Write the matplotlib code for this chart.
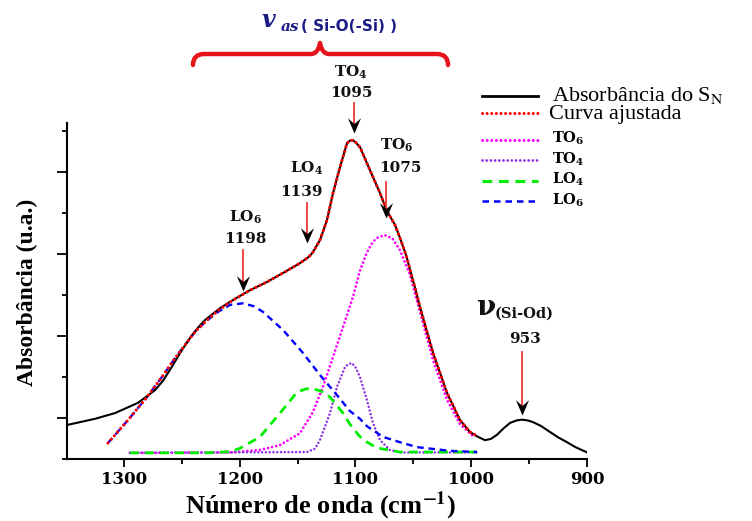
import matplotlib
matplotlib.use("Agg")
import matplotlib.pyplot as plt
from matplotlib.path import Path
from matplotlib.patches import PathPatch
from matplotlib.lines import Line2D
from matplotlib.transforms import Affine2D

plt.rcParams['mathtext.fontset'] = 'dejavuserif'

# ---------------- data ----------------
wn_exp = [1349.2, 1325.1, 1307.8, 1287.9, 1273.2, 1266.0, 1258.0, 1249.9, 1241.3, 1235.0,
          1230.0, 1217.1, 1205.8, 1191.1, 1176.5, 1162.6, 1147.9, 1140.0, 1136.7, 1130.7,
          1124.6, 1119.4, 1113.4, 1107.3, 1104.8, 1102.2, 1099.6, 1096.1, 1087.5, 1078.8,
          1072.8, 1066.0, 1061.6, 1056.0, 1052.9, 1048.0, 1044.3, 1033.0, 1020.9, 1009.7,
          1001.1, 994.2, 988.1, 983.0, 977.8, 972.0, 966.5, 961.0, 956.2, 951.0,
          946.7, 940.0, 932.0, 925.0, 917.3, 910.0, 899.1]
abs_exp = [0.83, 0.98, 1.12, 1.37, 1.68, 1.92, 2.28, 2.66, 3.02, 3.24,
           3.39, 3.68, 3.88, 4.12, 4.32, 4.54, 4.78, 4.94, 5.05, 5.34,
           5.83, 6.49, 7.12, 7.71, 7.77, 7.78, 7.72, 7.61, 7.05, 6.49,
           6.05, 5.72, 5.40, 4.95, 4.62, 4.12, 3.71, 2.59, 1.61, 0.95,
           0.66, 0.54, 0.46, 0.49, 0.59, 0.75, 0.88, 0.94, 0.96, 0.94,
           0.90, 0.81, 0.66, 0.53, 0.41, 0.29, 0.15]

wn_fit = [1313.8, 1296.5, 1280.1, 1267.2, 1255.9, 1247.3, 1238.7, 1230.0, 1218.8, 1206.7,
          1191.1, 1176.5, 1162.6, 1147.9, 1140.0, 1136.7, 1130.7, 1124.6, 1119.4, 1113.4,
          1107.3, 1104.8, 1102.2, 1099.6, 1096.1, 1087.5, 1078.8, 1072.8, 1066.0, 1061.6,
          1056.0, 1052.9, 1048.0, 1044.3, 1033.0, 1020.9, 1009.7, 1001.1, 996.0]
abs_fit = [0.39, 0.95, 1.51, 2.00, 2.46, 2.78, 3.10, 3.34, 3.62, 3.86,
           4.12, 4.32, 4.54, 4.78, 4.94, 5.05, 5.34, 5.83, 6.49, 7.12,
           7.71, 7.77, 7.78, 7.72, 7.61, 7.05, 6.49, 6.05, 5.72, 5.40,
           4.95, 4.62, 4.12, 3.71, 2.59, 1.61, 0.95, 0.66, 0.58]

wn_lo6 = [1313.8, 1296.5, 1280.1, 1267.2, 1255.9, 1247.3, 1238.7, 1230.0, 1218.8, 1208.4,
          1197.2, 1188.0, 1179.9, 1162.6, 1145.4, 1130.7, 1116.0, 1104.8, 1096.1, 1090.1,
          1076.2, 1061.6, 1046.9, 1018.4, 995.0]
abs_lo6 = [0.39, 0.95, 1.51, 2.00, 2.46, 2.78, 3.10, 3.34, 3.59, 3.76,
           3.80, 3.73, 3.59, 3.15, 2.59, 2.05, 1.56, 1.17, 0.98, 0.80,
           0.54, 0.41, 0.29, 0.20, 0.17]

wn_lo4 = [1294.8, 1230.0, 1208.4, 1199.8, 1182.5, 1165.2, 1150.5, 1143.0, 1137.6, 1130.0,
          1122.0, 1110.8, 1104.8, 1097.8, 1093.5, 1081.4, 1061.6, 995.0]
abs_lo4 = [0.15, 0.15, 0.18, 0.26, 0.54, 1.12, 1.63, 1.71, 1.72, 1.66,
           1.51, 1.12, 0.85, 0.60, 0.47, 0.27, 0.17, 0.17]

wn_to6 = [1294.8, 1208.4, 1182.5, 1165.2, 1147.9, 1136.7, 1128.1, 1119.4, 1110.8, 1102.2,
          1096.1, 1090.0, 1085.0, 1080.0, 1074.5, 1068.0, 1061.6, 1052.9, 1044.3, 1033.0,
          1020.9, 1009.7, 998.5]
abs_to6 = [0.15, 0.16, 0.22, 0.34, 0.63, 1.15, 1.76, 2.49, 3.22, 3.95,
           4.60, 5.05, 5.30, 5.42, 5.46, 5.38, 5.10, 4.49, 3.59, 2.41,
           1.44, 0.85, 0.56]

wn_to4 = [1294.8, 1141.9, 1135.0, 1130.7, 1122.0, 1116.0, 1109.1, 1106.0, 1103.0, 1100.0,
          1096.1, 1090.1, 1084.9, 1078.8, 1070.2, 1061.6, 995.0]
abs_to4 = [0.15, 0.17, 0.25, 0.46, 1.12, 1.76, 2.24, 2.32, 2.34, 2.24,
           2.00, 1.44, 0.88, 0.46, 0.22, 0.16, 0.16]

x_ticks = [1300, 1200, 1100, 1000, 900]
x_ticklabels = ['1300', '1200', '1100', '1000', '900']
x_minor = [1250, 1150, 1050, 950]

# peak annotations: (x of tip, y of tip, y of red line top)
ann_lo6 = (1197.2, 4.10, 5.10)
ann_lo4 = (1141.9, 5.27, 6.24)
ann_to4 = (1101.3, 7.95, 8.68)
ann_to6 = (1073.6, 5.88, 6.76)
ann_953 = (956.2, 1.07, 2.61)

# ---------------- figure ----------------
W, H = 752, 521
fig = plt.figure(figsize=(W / 100, H / 100), dpi=100)
pix = Affine2D().scale(1 / W, -1 / H).translate(0, 1) + fig.transFigure

ax = fig.add_axes([67 / W, 1 - 459 / H, (587 - 67) / W, (459 - 123) / H])
ax.set_facecolor('none')

ax.plot(wn_exp, abs_exp, color='black', lw=1.5, zorder=3)
ax.plot(wn_fit, abs_fit, color='#ff0000', lw=2.3, ls=(0, (0.01, 1.5)),
        dash_capstyle='round', zorder=4)
ax.plot(wn_to6, abs_to6, color='#ff00ff', lw=2.0, ls=(0, (0.01, 1.5)),
        dash_capstyle='round', zorder=2)
ax.plot(wn_to4, abs_to4, color='#8a2be2', lw=1.8, ls=(0, (0.01, 1.5)),
        dash_capstyle='round', zorder=2)
ax.plot(wn_lo4, abs_lo4, color='#00ee00', lw=2.0, ls=(0, (3.2, 2.2)), zorder=2)
ax.plot(wn_lo6, abs_lo6, color='#0000ff', lw=1.7, ls=(0, (2.8, 2.0)), zorder=2)

ax.set_xlim(1349.2, 900)
ax.set_ylim(0, 8.2)
for s in ('top', 'right'):
    ax.spines[s].set_visible(False)
for s in ('left', 'bottom'):
    ax.spines[s].set_linewidth(1.5)

ax.set_xticks(x_ticks)
ax.set_xticklabels(x_ticklabels, fontfamily='DejaVu Serif', fontweight='bold', fontsize=12)
ax.set_xticks(x_minor, minor=True)
ax.set_yticks([1, 3, 5, 7])
ax.set_yticks([0, 2, 4, 6, 8], minor=True)
ax.set_yticklabels([])
ax.tick_params(axis='x', which='major', length=6, width=1.3, pad=3)
ax.tick_params(axis='x', which='minor', length=3.5, width=1.3)
ax.tick_params(axis='y', which='major', length=7, width=1.3)
ax.tick_params(axis='y', which='minor', length=3.5, width=1.3)

# arrows
stealth = Path([(0, 0), (-0.43, 1.0), (0, 0.62), (0.43, 1.0), (0, 0)],
               [Path.MOVETO, Path.LINETO, Path.LINETO, Path.LINETO, Path.CLOSEPOLY])
for (x, ytip, ytop) in (ann_lo6, ann_lo4, ann_to4, ann_to6, ann_953):
    ax.plot([x, x], [ytop, ytip + 0.2], color='#f03535', lw=1.3, clip_on=False, zorder=5)
    ax.plot([x], [ytip], marker=stealth, color='black', markersize=22,
            markeredgewidth=0, clip_on=False, zorder=6)

lab = dict(transform=pix, family='DejaVu Serif', fontweight='bold', fontsize=11,
           ha='center', va='baseline', color='#111111')
fig.text(245, 222, r'LO$_\mathbf{6}$', **lab)
fig.text(245, 243, '1198', **lab)
fig.text(307, 173, r'LO$_\mathbf{4}$', **lab)
fig.text(301, 196, '1139', **lab)
fig.text(351, 77, r'TO$_\mathbf{4}$', **lab)
fig.text(351, 97, '1095', **lab)
fig.text(397, 150, r'TO$_\mathbf{6}$', **lab)
fig.text(400, 172, '1075', **lab)
fig.text(525, 343, '953', **lab)
fig.text(476, 315, 'ν', transform=pix, family='DejaVu Serif', fontweight='bold',
         fontsize=20, ha='left', va='baseline', color='#111111')
fig.text(495, 318, '(Si-Od)', transform=pix, family='DejaVu Serif', fontweight='bold',
         fontsize=10.5, ha='left', va='baseline', color='#111111')

# top brace + title
navy = '#1c1c86'
bv = [(193, 65), (193, 54), (204, 54), (311, 54), (318, 54), (320, 43),
      (322, 54), (329, 54), (437, 54), (448, 54), (448, 65)]
bc = [Path.MOVETO, Path.CURVE3, Path.CURVE3, Path.LINETO, Path.CURVE3, Path.CURVE3,
      Path.CURVE3, Path.CURVE3, Path.LINETO, Path.CURVE3, Path.CURVE3]
fig.add_artist(PathPatch(Path(bv, bc), transform=pix, fill=False, edgecolor='#e8141c',
                         lw=3.2, capstyle='round', joinstyle='round'))
fig.text(262, 27, 'v', transform=pix, family='DejaVu Serif', fontweight='bold',
         style='italic', fontsize=17, ha='left', va='baseline', color=navy)
fig.text(281, 31, 'as', transform=pix, family='DejaVu Serif', fontweight='bold',
         style='italic', fontsize=11, ha='left', va='baseline', color=navy)
fig.text(301, 31, '( Si-O(-Si) )', transform=pix, family='DejaVu Sans', fontweight='bold',
         fontsize=11, ha='left', va='baseline', color=navy)

# legend
leg_rows = [
    (96, dict(color='black', lw=2.0, ls='-')),
    (113, dict(color='#ff0000', lw=2.2, ls=(0, (0.01, 1.5)), dash_capstyle='round')),
    (140, dict(color='#ff00ff', lw=2.2, ls=(0, (0.01, 1.5)), dash_capstyle='round')),
    (160, dict(color='#8a2be2', lw=2.0, ls=(0, (0.01, 1.5)), dash_capstyle='round')),
    (181, dict(color='#00ee00', lw=2.2, ls=(0, (3.2, 2.2)))),
    (201, dict(color='#0000ff', lw=1.8, ls=(0, (2.6, 2.0)))),
]
for yy, kw in leg_rows:
    fig.add_artist(Line2D([482, 538], [yy, yy], transform=pix, **kw))
fig.text(552, 101, r'Absorbância do S$_\mathrm{N}$', transform=pix, family='Liberation Serif',
         fontsize=16, ha='left', va='baseline', math_fontfamily='stix')
fig.text(549, 119, 'Curva ajustada', transform=pix, family='Liberation Serif',
         fontsize=16, ha='left', va='baseline')
leg = dict(transform=pix, family='DejaVu Serif', fontweight='bold', fontsize=10.5,
           ha='left', va='baseline')
fig.text(552, 143, r'TO$_\mathbf{6}$', **leg)
fig.text(552, 164, r'TO$_\mathbf{4}$', **leg)
fig.text(552, 184, r'LO$_\mathbf{4}$', **leg)
fig.text(552, 205, r'LO$_\mathbf{6}$', **leg)

# axis labels
fig.text(320, 506, r'Número de onda (cm$^{\mathbf{-1}}$)', transform=pix,
         family='Liberation Serif', fontweight='bold', fontsize=19, ha='center', va='center',
         math_fontfamily='stix')
fig.text(27, 292, 'Absorbância (u.a.)', transform=pix, family='Liberation Serif',
         fontweight='bold', fontsize=17, rotation=90, ha='center', va='center')

fig.savefig('out.png', dpi=100)
